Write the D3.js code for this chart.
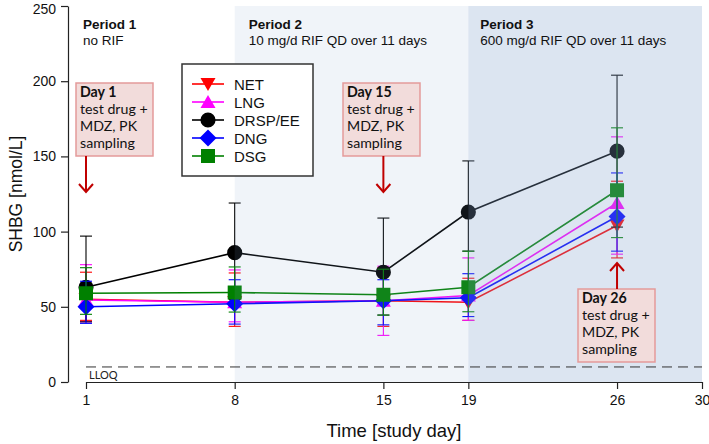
<!DOCTYPE html>
<html><head><meta charset="utf-8">
<script src="https://cdn.jsdelivr.net/npm/d3@7"></script>
<style>
body{margin:0;background:#fff;}
svg text{font-family:"Liberation Sans",Arial,sans-serif;}
</style></head>
<body>
<svg id="c" width="709" height="444"></svg>
<script>
const days = [1, 8, 15, 19, 26];
const xTicks = [1, 8, 15, 19, 26, 30];
const yTicks = [0, 50, 100, 150, 200, 250];
const seriesNames = ["NET", "LNG", "DRSP/EE", "DNG", "DSG"];
const netMean = [55, 53, 54, 53, 104];
const netHi   = [73, 72.5, 76, 69, 133.5];
const netLo   = [41, 37, 37, 41, 82.5];
const lngMean = [54.5, 53, 54, 57.5, 119];
const lngHi   = [78, 74.5, 77, 82.5, 163];
const lngLo   = [40, 40, 31, 41, 85];
const drspMean = [63, 86, 73, 113, 153.5];
const drspHi   = [97, 119, 109, 147, 204];
const drspLo   = [40, 55, 44.5, 87, 103];
const dngMean = [50, 52, 54, 56, 110];
const dngHi   = [67, 68, 68, 72, 139];
const dngLo   = [39, 38.5, 38, 43.5, 87];
const dsgMean = [59, 59.5, 58, 63, 127.5];
const dsgHi   = [76, 76.5, 75, 87, 169];
const dsgLo   = [45, 46.5, 44.5, 46.7, 96];
const lloq = 10;

const series = [
  {name:"NET", mean:netMean, hi:netHi, lo:netLo, color:"#ff0000", shape:"tridown"},
  {name:"LNG", mean:lngMean, hi:lngHi, lo:lngLo, color:"#ff00ff", shape:"triup"},
  {name:"DRSP/EE", mean:drspMean, hi:drspHi, lo:drspLo, color:"#000000", shape:"circle"},
  {name:"DNG", mean:dngMean, hi:dngHi, lo:dngLo, color:"#0000ff", shape:"diamond"},
  {name:"DSG", mean:dsgMean, hi:dsgHi, lo:dsgLo, color:"#008000", shape:"square"}
];

const svg = d3.select("#c");
const x = d3.scaleLinear().domain([1, 30]).range([86, 702]);
const y = d3.scaleLinear().domain([0, 250]).range([382, 6]);

function shapePath(s){
  switch(s){
    case "tridown": return "M-7.5,-6L7.5,-6L0,7Z";
    case "triup": return "M-7.5,6L7.5,6L0,-7Z";
    case "circle": return d3.symbol(d3.symbolCircle, 180)();
    case "diamond": return "M0,-8.5L8.5,0L0,8.5L-8.5,0Z";
    case "square": return "M-7,-7L7,-7L7,7L-7,7Z";
  }
}

// data
const gData = svg.append("g");
series.forEach(s => {
  const g = gData.append("g");
  days.forEach((d,i) => {
    const xx = x(d);
    g.append("line").attr("x1",xx).attr("x2",xx).attr("y1",y(s.lo[i])).attr("y2",y(s.hi[i]))
      .attr("stroke",s.color).attr("stroke-width",1.1);
    [s.lo[i], s.hi[i]].forEach(v => {
      g.append("line").attr("x1",xx-6).attr("x2",xx+6).attr("y1",y(v)).attr("y2",y(v))
        .attr("stroke",s.color).attr("stroke-width",1.1);
    });
  });
  const line = d3.line().x((d,i)=>x(days[i])).y(d=>y(d));
  g.append("path").attr("d", line(s.mean)).attr("fill","none").attr("stroke",s.color).attr("stroke-width",1.6);
  days.forEach((d,i) => {
    g.append("path").attr("d", shapePath(s.shape)).attr("transform",`translate(${x(d)},${y(s.mean[i])})`)
      .attr("fill",s.color);
  });
});

// shading overlays
svg.append("rect").attr("x",x(8)).attr("y",y(250)).attr("width",x(19)-x(8)).attr("height",y(0)-y(250))
  .attr("fill","#87a5d0").attr("opacity",0.12);
svg.append("rect").attr("x",x(19)).attr("y",y(250)).attr("width",x(30)-x(19)).attr("height",y(0)-y(250))
  .attr("fill","#87a5d0").attr("opacity",0.29);

// LLOQ
svg.append("line").attr("x1",x(1)).attr("x2",x(30)).attr("y1",y(lloq)).attr("y2",y(lloq))
  .attr("stroke","#333").attr("stroke-width",1).attr("stroke-dasharray","10,6");
svg.append("text").attr("x",x(1)+3).attr("y",y(lloq)+12).text("LLOQ")
  .style("font-family","Lato, 'Open Sans', sans-serif").style("font-size","11px").attr("fill","#222");

// axes
const yAxis = d3.axisLeft(y).tickValues(yTicks).tickSize(7).tickSizeOuter(0).tickPadding(5);
const gy = svg.append("g").attr("transform","translate(68,0)").call(yAxis);
const xAxis = d3.axisBottom(x).tickValues(xTicks).tickSize(7).tickSizeOuter(0).tickPadding(6);
const gx = svg.append("g").attr("transform",`translate(0,${y(0)})`).call(xAxis);
[gx, gy].forEach(g => {
  g.selectAll("path,line").attr("stroke","#222").attr("stroke-width",1.2);
  g.selectAll("text").style("font-size","14px").attr("fill","#111");
});
gy.selectAll(".tick text").filter(d => d === 250).attr("dy","0.5em");

svg.append("text").attr("x",394).attr("y",437).attr("text-anchor","middle")
  .style("font-size","18.5px").attr("fill","#111").text("Time [study day]");
svg.append("text").attr("transform","translate(22,194) rotate(-90)").attr("text-anchor","middle")
  .style("font-size","17.5px").attr("fill","#111").text("SHBG [nmol/L]");

// period labels
const periods = [
  {day:1, t1:"Period 1", t2:"no RIF", dx:-3},
  {day:8, t1:"Period 2", t2:"10 mg/d RIF QD over 11 days", dx:14},
  {day:19, t1:"Period 3", t2:"600 mg/d RIF QD over 11 days", dx:12}
];
periods.forEach(p => {
  svg.append("text").attr("x",x(p.day)+p.dx).attr("y",29).style("font-size","13.5px").style("font-weight","bold").attr("fill","#111").text(p.t1);
  svg.append("text").attr("x",x(p.day)+p.dx).attr("y",45).style("font-size","13.5px").attr("fill","#111").text(p.t2);
});

// annotation boxes
const boxes = [
  {day:1, title:"Day 1", bx:76, by:83, dir:"down"},
  {day:15, title:"Day 15", bx:343, by:83, dir:"down"},
  {day:26, title:"Day 26", bx:578, by:289, dir:"up"}
];
const bw = 77, bh = 73;
boxes.forEach(b => {
  svg.append("rect").attr("x",b.bx).attr("y",b.by).attr("width",bw).attr("height",bh)
    .attr("fill","#f2dcdb").attr("stroke","#e49a9a").attr("stroke-width",1.5);
  const lines = [b.title, "test drug +", "MDZ, PK", "sampling"];
  lines.forEach((t,i) => {
    svg.append("text").attr("x",b.bx+4).attr("y",b.by+14+i*17)
      .style("font-family","Lato,'Open Sans',sans-serif").style("font-size","14.2px")
      .style("font-weight", i===0?"bold":"normal").attr("fill","#111").text(t);
  });
  const ax = x(b.day);
  let y1, y2, s;
  if (b.dir==="down"){ y1 = b.by+bh; y2 = 192; s = -1; } else { y1 = b.by; y2 = 263; s = 1; }
  svg.append("line").attr("x1",ax).attr("x2",ax).attr("y1",y1).attr("y2",y2).attr("stroke","#c00000").attr("stroke-width",2);
  svg.append("path").attr("d",`M${ax-7},${y2+s*8}L${ax},${y2}L${ax+7},${y2+s*8}`)
    .attr("fill","none").attr("stroke","#c00000").attr("stroke-width",2);
});

// legend
const lg = svg.append("g");
lg.append("rect").attr("x",182).attr("y",64).attr("width",131).attr("height",112)
  .attr("fill","#fff").attr("stroke","#333").attr("stroke-width",1.5);
series.forEach((s,i) => {
  const yy = 84 + i*18;
  lg.append("line").attr("x1",192).attr("x2",224).attr("y1",yy).attr("y2",yy).attr("stroke",s.color).attr("stroke-width",1.6);
  lg.append("path").attr("d",shapePath(s.shape)).attr("transform",`translate(208,${yy})`).attr("fill",s.color);
  lg.append("text").attr("x",234).attr("y",yy+5.5).style("font-size","15px").attr("fill","#111").text(s.name);
});
</script>
</body></html>
